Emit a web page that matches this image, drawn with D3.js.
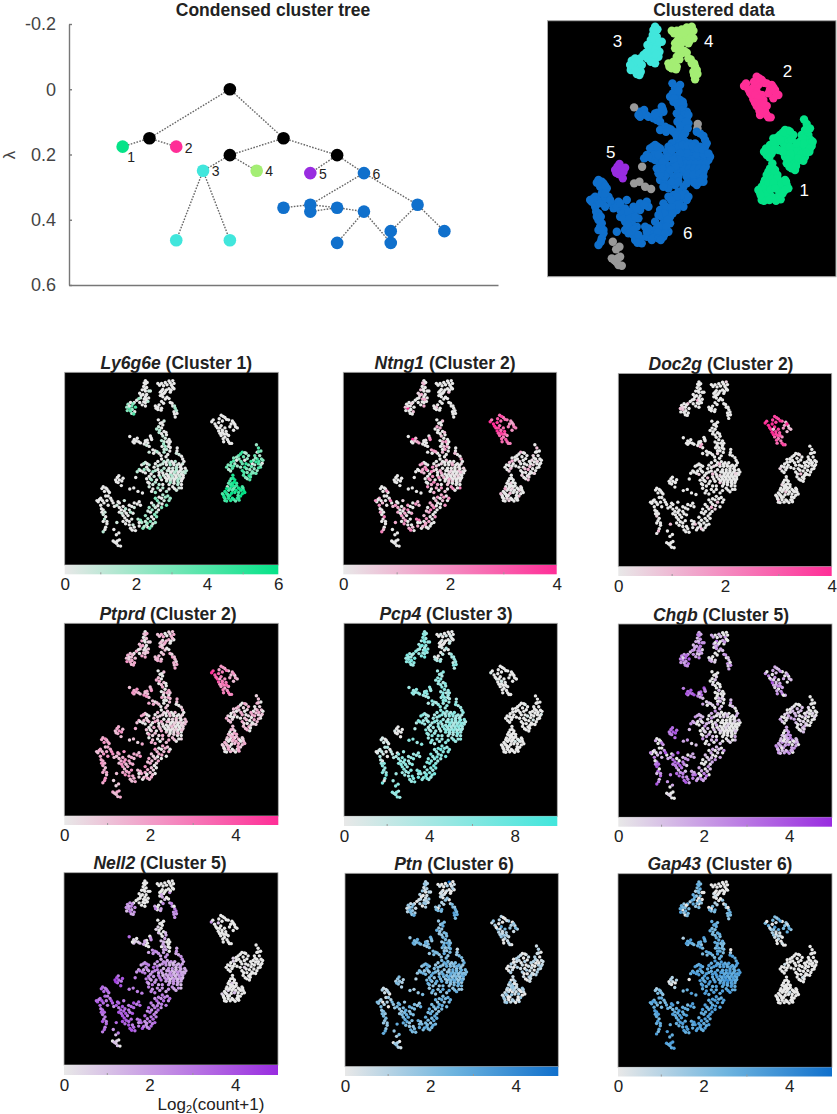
<!DOCTYPE html>
<html>
<head>
<meta charset="utf-8">
<script src="https://cdn.jsdelivr.net/npm/d3@7"></script>
<style>
body { margin: 0; background: #fff; }
text { font-family: "Liberation Sans", Arial, sans-serif; fill: #222; }
</style>
</head>
<body>
<div id="chart"></div>
<script>
// embedding coordinates, grouped by cluster (cluster 6 split in its lobes)
const cluster1 = [[792,358],[800,372],[810,385],[795,390],[785,405],[805,405],[812,420],[795,420],[780,425],[815,438],[800,440],[785,445],[808,455],[795,470],[735,390],[750,395],[720,405],[700,415],[712,425],[740,410],[760,405],[690,435],[678,445],[705,440],[730,430],[745,425],[680,465],[695,460],[715,450],[775,440],[760,445],[745,455],[765,465],[735,470],[755,478],[740,490],[770,485],[755,505],[765,510],[780,480],[697,490],[690,505],[705,510],[680,525],[695,525],[712,525],[675,540],[690,540],[705,540],[720,545],[735,540],[665,560],[680,555],[695,555],[710,555],[730,555],[660,578],[675,572],[685,578],[720,565],[740,555],[665,600],[680,590],[700,595],[715,590],[728,580],[718,578],[695,590]];
const cluster2 = [[650,230],[665,240],[612,258],[625,268],[640,262],[655,255],[680,250],[695,255],[705,270],[715,285],[700,295],[685,280],[665,285],[650,275],[635,285],[640,298],[655,305],[670,300],[650,318],[665,325],[680,318],[660,345],[680,345],[692,352],[675,335]];
const cluster3 = [[345,80],[345,95],[338,105],[350,110],[332,120],[345,125],[365,125],[322,135],[335,140],[350,140],[358,155],[325,155],[340,160],[310,165],[322,175],[345,175],[355,170],[345,190],[300,175],[285,175],[275,182],[290,190],[280,200],[272,210],[292,205],[305,195],[290,222],[302,215]];
const cluster4 = [[395,92],[410,92],[425,88],[440,82],[455,80],[450,100],[460,115],[440,115],[430,120],[415,118],[405,130],[420,135],[445,130],[405,145],[415,150],[410,170],[425,160],[440,158],[445,175],[400,185],[385,190],[395,205],[410,200],[455,190],[465,200],[460,215],[470,210],[465,238],[462,225]];
const cluster5 = [[238,492],[225,510],[240,510],[255,503],[235,522],[248,535]];
const cluster6Top = [[397,250],[420,255],[405,265],[390,290],[410,285],[420,300],[400,305],[415,320],[430,315],[440,335],[420,345],[440,355],[425,365],[445,370],[430,378],[412,365]];
const cluster6Left = [[300,335],[312,330],[300,350],[318,345],[345,340],[365,320],[370,335],[355,350],[340,355],[360,365],[375,380],[360,390],[385,385],[400,395],[420,390],[435,400],[480,400],[495,420],[410,420],[395,430]];
const cluster6Core = [[440,470],[455,470],[470,470],[485,470],[500,475],[430,485],[445,485],[460,485],[475,485],[490,485],[505,480],[425,500],[440,500],[455,500],[470,500],[485,500],[497,500],[430,515],[445,515],[460,515],[475,515],[490,515],[455,460],[470,455],[485,455],[420,430],[435,425],[450,430],[465,430],[480,440],[495,440],[430,445],[445,445],[460,445],[405,445],[455,540],[470,555],[490,545],[475,530],[440,530]];
const cluster6Mid = [[345,435],[330,445],[360,445],[350,455],[320,465],[335,475],[312,475],[345,480],[360,470],[380,455],[375,475],[395,465],[410,470],[400,490],[380,495],[360,495],[370,510],[355,520],[385,520],[410,510],[400,530],[415,530],[360,540],[375,550],[385,565],[405,555],[430,560]];
const cluster6Ring = [[415,575],[435,580],[400,585],[385,590],[420,600],[440,600],[370,610],[400,610],[430,620],[360,630],[385,630],[410,630],[365,650],[390,650],[345,665],[370,670],[390,670],[345,690],[365,690],[385,695],[315,680],[330,695],[320,710],[335,720],[350,705],[370,710]];
const cluster6Arc = [[175,540],[190,550],[180,560],[200,565],[165,590],[185,580],[205,590],[155,605],[190,600],[215,610],[165,620],[195,620],[220,625],[235,605],[260,600],[175,640],[240,630],[255,625],[280,620],[300,610],[320,605],[175,660],[240,650],[260,645],[280,640],[300,630],[325,620],[180,680],[255,665],[275,665],[295,655],[190,700],[270,685],[290,680],[230,695],[185,715],[175,735],[280,705],[300,715],[255,690],[285,720],[305,730]];
const unassigned = [[282,322],[473,372],[472,385],[306,500],[282,550],[298,545],[315,560],[333,567],[218,725],[238,740],[228,748],[215,775],[228,785],[240,770],[235,795],[245,797]];

// second reading of the denser parts of each cluster
const cluster1More = [[800,388],[788,415],[802,430],[818,425],[790,432],[810,445],[772,452],[783,462],[800,458],[775,475],[790,482],[745,392],[728,398],[712,412],[700,428],[688,448],[672,455],[688,472],[700,450],[722,420],[735,440],[750,440],[752,462],[742,478],[728,455],[762,492],[748,500],[768,498],[755,418],[770,430],[698,503],[685,515],[703,520],[688,530],[672,548],[685,548],[698,535],[712,535],[725,550],[700,548],[670,567],[665,590],[678,580],[692,568],[705,565],[738,545],[745,565],[672,602],[688,600],[708,602],[722,598],[735,570],[655,570],[662,585],[720,590]];
const cluster2More = [[642,245],[658,235],[672,248],[618,250],[630,278],[645,285],[690,268],[708,280],[700,262],[655,295],[645,308],[662,312],[672,312],[658,332],[685,352]];
const cluster3More = [[352,88],[340,90],[342,118],[358,125],[328,145],[345,150],[338,172],[348,162],[332,185],[318,158],[280,190],[295,180],[285,212],[298,225],[270,195]];
const cluster4More = [[402,100],[418,102],[432,98],[445,90],[460,92],[455,110],[448,122],[410,125],[425,128],[412,140],[395,195],[418,178],[432,152],[452,178],[462,190],[472,222],[388,200],[408,208]];
const cluster5More = [[232,500],[250,515],[228,518]];
const cluster6TopMore = [[412,262],[398,280],[415,272],[402,295],[428,305],[410,310],[425,330],[433,345],[410,340],[445,345],[418,355],[438,365],[420,378],[443,385]];
const cluster6LeftMore = [[308,342],[295,345],[325,350],[352,338],[368,328],[350,360],[345,345],[378,395],[392,388],[408,405],[428,410],[470,395],[490,408],[500,430]];
const cluster6CoreMore = [[433,470],[448,477],[463,477],[478,477],[493,477],[437,492],[452,492],[467,492],[482,492],[497,490],[510,470],[432,507],[447,507],[462,507],[477,507],[492,507],[418,490],[440,460],[470,463],[490,462],[445,522],[460,525],[478,522],[490,530],[415,440],[428,435],[443,436],[458,438],[473,445],[488,448],[505,460],[420,460],[415,480],[480,545],[462,548]];
const cluster6MidMore = [[338,440],[352,440],[340,465],[325,470],[355,465],[368,485],[385,470],[400,478],[405,500],[390,510],[375,530],[360,525],[365,505],[350,505],[395,545],[370,560],[415,545],[385,440],[395,450],[440,550]];
const cluster6RingMore = [[425,585],[410,590],[393,600],[412,615],[378,620],[395,622],[372,640],[398,640],[355,645],[382,660],[355,678],[378,680],[352,698],[375,700],[325,685],[320,695],[340,712],[355,715],[445,590],[362,720]];
const cluster6ArcMore = [[170,548],[185,545],[195,558],[172,600],[178,610],[195,580],[210,600],[160,595],[150,600],[168,635],[170,650],[182,650],[185,670],[175,690],[182,725],[190,690],[230,620],[248,640],[265,635],[290,625],[312,615],[250,655],[268,655],[285,650],[262,675],[280,690],[265,700],[295,705],[292,728],[240,610]];
const unassignedMore = [[222,780],[232,775]];

const pointGroups = [cluster1, cluster2, cluster3, cluster4, cluster5, cluster6Top, cluster6Left, cluster6Core, cluster6Mid, cluster6Ring, cluster6Arc, unassigned,
	cluster1More, cluster2More, cluster3More, cluster4More, cluster5More, cluster6TopMore, cluster6LeftMore, cluster6CoreMore, cluster6MidMore, cluster6RingMore, cluster6ArcMore, unassignedMore];
const groupCluster = [1, 2, 3, 4, 5, 6, 6, 6, 6, 6, 6, 0, 1, 2, 3, 4, 5, 6, 6, 6, 6, 6, 6, 0];

// expression level per point (0-9 = share of the colour bar), same order as pointGroups
const ly6g6e = ["3640524730 6253725405 3642502630 4737465364 8695872968 7856979587 96878968","0000000000 0000000000 00000","0000001000 0100002000 35643620","0000000000 0000000000 000030200","000000","0102002100 103020","0000100000 0100201000","1020103010 2001020100 3012021020 1030101020","1020302010 3020103020 2010302","2304130253 1402304143 220413","0000000000 0000100000 0100010200 0000102000 00","0000000000 000000",
	"5364725364 5273645263 5746384637 8697968795 8679869785 79687","000000000000000","000100000304563","000000000000002000","000","01020010203010","00000100200100","1020102010 2010201020 3020102010 02010","2030102030 1020302010","3040203014 2031402035","0000000000 0100001020 0102000100","00"];
const ntng1 = ["0200100010 0100300000 0200100200 0030010020 0000200000 1000020000 00100200","6599865445 4566799865 46657","0300200130 0030000300 00900002","0000000000 0020000000 000000000","000000","0200300200 302040","9203005000 3040200300","0102000100 0300100002 0100102000 1003040502","0304030204 5030402050 3040302","3040203040 5030204030 503040","0000300000 4020103040 2030502040 3040305020 30","0000000000 000000",
	"0010002000 1000300100 0020000100 0000300001 0002000010 00200","7865984536 78665","020010030001002","000000000020000000","000","03002004000300","20304000300200","0100200010 0030001000 2000100200 10304","4030502040 3050304020","4020305020 4030502040","0040205040 3050204030 4030204050","00"];
const doc2g = ["0000000000 0000010000 0000000000 0000200000 0001000000 0002000000 00000000","8799986212 2489998765 46765","0000000000 0030000020 00200000","0000100000 0000000000 000000000","000000","0000000000 000000","0000000300 0000100000","0000010000 0000000200 0000000000 0000100000","0000000100 0000200000 0000000","0000200000 0100000000 020000","0000000000 0000000000 0100000000 0000200000 00","0000000000 000000",
	"0000000000 0000001000 0000000000 0000000000 0200000000 00000","8898923298 98778","000000000010002","000000000000000000","000","00000000000000","00000300000000","0000100000 0000000000 0000020000 00000","0000000200 0000000000","0000030000 0000000200","0000000000 0000200000 0000000000","00"];
const ptprd = ["1203012302 1302013201 3012302103 1203021301 2302032103 1302302103 20320130","4397652312 2345876543 45654","0102301230 2103012302 32143223","2301230320 1203212032 231423132","324232","0203020303 201203","3432324242 2302010202","2012001201 2010201200 2013012020 1020120102","2301302032 0231302023 1302302","3204232303 2031420320 231023","3243323234 3423432323 2324324343 3234243433 23","2323121312 132323",
	"2130210320 1302103201 3021032013 2032103203 2130213020 32103","3458632345 45654","320130213012332","230132023132012323","342","02030203020302","34233423202010","2010102001 2001020010 0120102001 20102","3020103020 1302032013","3023102320 3102302302","3432434323 4323432343 3423234323","23"];
const pcp4 = ["0000000001 0000010000 0000000000 1000000000 0000000000 0000100000 00000000","0010000000 0000100000 00000","4554355465 5345454654 64556645","0100010001 0020100000 132342435","010000","4544534544 545354","4545354544 5345453454","5435446354 4534543543 5453454354 3454534543","4534543454 3455434543 5445345","5464556465 5465456456 546554","1010120102 3030404544 4554354454 5645456454 55","4343554545 554354",
	"0000000100 0000000000 0000000000 0000000010 0000000000 00000","000000000100000","456453465443544","001000100002344534","000","45345453445354","45454354354545","4534543454 3545345345 4354534543 54345","5345345434 5435454345","5645465456 5465645654","1012132102 4545043454 4554544645","45"];
const chgb = ["0000100010 0000001012 2103212032 1012103120 3042342034 2342035240 34253432","3245020102 0304572310 34534","3524354235 1342413534 56544756","3020040306 3400400230 031024031","657656","0000201000 003020","6756673652 1321312043","0001000100 0200010000 1000020100 3020101200","3423304020 2010201030 2040102","2030102030 2401302050 365463","0103204030 5230756020 3756543645 1642527556 63","5242341243 001000",
	"0010010001 0000103012 2010320120 3041203502 3403420234 03423","3240010232 35430","352435243416345","302000400300342431","675","00100020000100","67765320103102","0010001000 0100020001 0003010200 20301","3203042020 3010203040","2030120304 3206352543","3050207040 5602543604 3574256475","10"];
const nell2 = ["0000000000 0000000100 0000000000 0100000000 0000200000 0010000100 00000000","0040200000 0000000000 00000","0000000000 0000000004 45423434","0000000000 0040302030 303454544","586767","0001002030 203030","1021304030 4354343434","3243234324 3432342324 4342343432 3423243234","4354354536 4545453545 3454543","5454645456 5464655456 565746","6565665756 6546565757 6576566575 7676655767 76","6345555545 201020",
	"0000000000 0000100000 0000000000 0000000000 0000200000 00100","000000000000000","000000000034534","000000000304050453","758","01002030203030","10204034434343","3424334243 3424232423 3432443234 32343","4535445354 5345454354","5465454645 5645645465","6567657565 6657657666 5675766576","21"];
const ptn = ["1201201021 2012012010 1201020120 1012012010 1021312312 3120102103 12021302","2012003012 1345421232 10201","2312301201 3210231201 34523132","0009010010 0102023023 345456445","423232","3435343443 453534","4545453434 4343534343","3454345345 4345343453 4353454345 3543435343","4345453434 5345343545 3435343","4545344545 3454545434 545454","1210212323 4034343454 3434345345 4354535345 54","3132323434 203021",
	"1201021021 2012010201 1020120102 1302103102 3103120310 20130","2013012431 23201","231201320123451","102012010102343544","324","43534345345434","45434354434345","3543453435 4345354345 3454353453 43534","4534354345 3454345345","4535454345 4545345454","2120234343 4343534354 3454534345","32"];
const gap43 = ["0000000000 0000000000 0100000000 0000000000 0000000000 0000100000 00000000","4545010343 5456320112 00100","4545240534 0402503453 54065404","0000000000 1000020304 045344534","201202","5455454545 545454","5645565354 5454656565","6565567565 6567565656 5565556565 6565656565","5656565655 6565656566 5656565","6565656566 5656565656 565656","2343454545 5456464554 6565555656 6565556565 65","2020456565 565656",
	"0000000000 0000000000 0000010000 0000000000 0000000000 00000","4350134511 32100","454050443540345","000000000102030454","201","54545454545454","56455654545656","6565656565 6567656565 6565656565 65656","5656565656 5656565656","5656565656 6565656565","3445454656 5645454565 6565565656","56"];

const geneNames = ["Ly6g6e", "Ntng1", "Doc2g", "Ptprd", "Pcp4", "Chgb", "Nell2", "Ptn", "Gap43"];
const geneClusters = [1, 2, 2, 2, 3, 5, 5, 6, 6];
const geneLevels = [ly6g6e, ntng1, doc2g, ptprd, pcp4, chgb, nell2, ptn, gap43];
const geneMax = [6, 4, 4, 5, 10, 5, 5, 5, 5];
const geneTicks = [[0,2,4,6], [0,2,4], [0,2,4], [0,2,4], [0,4,8], [0,2,4], [0,2,4], [0,2,4], [0,2,4]];
const geneMinorTicks = [[1,3,5], [1,3], [1,3], [1,3], [2,6], [1,3], [1,3], [1,3], [1,3]];

// condensed tree: x slot, lambda, cluster of each node (-1 = black split)
const treeSlots = [4,1,0,2,6,4,3,5,8,7,9,2,4,7,11,6,8,7,9,8,10,10,12];
const treeLambda = [0,0.15,0.176,0.176,0.15,0.202,0.25,0.25,0.202,0.257,0.257,0.463,0.463,0.354,0.354,0.363,0.363,0.375,0.375,0.471,0.471,0.435,0.435];
const treeCluster = [-1,-1,1,2,-1,-1,3,4,-1,5,6,3,3,6,6,6,6,6,6,6,6,6,6];
const treeEdges = [[0,1],[0,4],[1,2],[1,3],[4,5],[4,8],[5,6],[5,7],[8,9],[8,10],[6,11],[6,12],[10,13],[10,14],[13,15],[13,16],[16,17],[16,18],[18,19],[18,20],[14,21],[14,22]];
const lambdaTicks = [-0.2, 0, 0.2, 0.4, 0.6];

const clusterColors = {"-1":"#000000", 0:"#999999", 1:"#05e388", 2:"#ff2e97", 3:"#41e6dc", 4:"#a4ee74", 5:"#992ce0", 6:"#1070cc"};
const lowColor = "#e8e8e8";
// the blue ramp runs through a sky blue, the others are straight
const midColors = {6:"#6fb5df"};

const svg = d3.select("#chart").append("svg")
	.attr("width", 837)
	.attr("height", 1114);
const defs = svg.append("defs");

const parseLevels = (s) => s.replace(/ /g, "").split("").map(Number);

let drawTitle = (x, y, gene, rest) => {
	const t = svg.append("text")
		.attr("x", x).attr("y", y)
		.attr("text-anchor", "middle")
		.attr("font-size", 17.5)
		.attr("font-weight", "bold");
	if (gene) t.append("tspan").attr("font-style", "italic").text(gene + " ");
	t.append("tspan").text(rest);
};

let drawTree = () => {
	const x = d3.scaleLinear().domain([-2, 14]).range([69, 498]);
	const y = d3.scaleLinear().domain([-0.2, 0.6]).range([24, 285]);
	const g = svg.append("g");

	const yAxis = g.append("g")
		.attr("transform", "translate(69,0)")
		.call(d3.axisLeft(y).tickValues(lambdaTicks).tickFormat(String).tickSizeInner(-3).tickSizeOuter(0).tickPadding(13));
	yAxis.selectAll("text").attr("font-size", 18).style("fill", "#444");
	g.append("g")
		.attr("transform", "translate(0,285)")
		.call(d3.axisBottom(x).tickValues([]).tickSizeOuter(0));
	g.selectAll(".domain, .tick line").attr("stroke", "#777").attr("stroke-width", 1.4);

	g.selectAll(".link")
		.data(treeEdges)
		.enter()
		.append("line")
		.attr("x1", (d) => x(treeSlots[d[0]]))
		.attr("y1", (d) => y(treeLambda[d[0]]))
		.attr("x2", (d) => x(treeSlots[d[1]]))
		.attr("y2", (d) => y(treeLambda[d[1]]))
		.attr("stroke", "#666")
		.attr("stroke-width", 1.4)
		.attr("stroke-dasharray", "1.6,1.4");

	g.selectAll(".node")
		.data(treeSlots)
		.enter()
		.append("circle")
		.attr("cx", (d) => x(d))
		.attr("cy", (d, i) => y(treeLambda[i]))
		.attr("r", 6.3)
		.attr("fill", (d, i) => clusterColors[treeCluster[i]]);

	// cluster numbers beside the first node of each cluster
	const nodeOfLabel = [2, 3, 6, 7, 9, 10];
	const labelOffset = [[8.5, 15.5], [12.5, 6.5], [12.5, 5.5], [12.5, 5.5], [12.5, 5.5], [12.5, 6]];
	g.selectAll(".nodelabel")
		.data(nodeOfLabel)
		.enter()
		.append("text")
		.attr("x", (d, i) => x(treeSlots[d]) + labelOffset[i][0])
		.attr("y", (d, i) => y(treeLambda[d]) + labelOffset[i][1])
		.attr("text-anchor", "middle")
		.attr("font-size", 14)
		.text((d, i) => i + 1);

	svg.append("text")
		.attr("transform", "translate(15,155) rotate(-90)")
		.attr("text-anchor", "middle")
		.attr("font-size", 17)
		.style("fill", "#444")
		.text("λ");
};

let drawMainScatter = () => {
	const x = d3.scaleLinear().domain([22, 888]).range([547.5, 836]);
	const y = d3.scaleLinear().domain([62, 830]).range([20.7, 276.7]);
	const g = svg.append("g");
	g.append("rect")
		.attr("x", x(22)).attr("y", y(62))
		.attr("width", x(888) - x(22)).attr("height", y(830) - y(62))
		.attr("fill", "#000").attr("stroke", "#aaa");
	pointGroups.forEach((pts, i) => {
		g.append("g").selectAll("circle")
			.data(pts)
			.enter()
			.append("circle")
			.attr("cx", (d) => x(d[0]))
			.attr("cy", (d) => y(d[1]))
			.attr("r", 4.2)
			.attr("fill", clusterColors[groupCluster[i]]);
	});
	// white cluster numbers inside the map
	const labelAt = [[793,588],[742,230],[232,140],[506,140],[212,473],[443,718]];
	g.selectAll(".maplabel")
		.data(labelAt)
		.enter()
		.append("text")
		.attr("x", (d) => x(d[0]))
		.attr("y", (d) => y(d[1]))
		.attr("text-anchor", "middle")
		.attr("font-size", 17)
		.style("fill", "#fff")
		.text((d, i) => i + 1);
};

// box of each gene panel: left, right, top, map bottom, bar bottom, title centre
const panelBoxes = [
	[64.7, 278.3, 372.3, 565, 574.3, 176.3],
	[343.3, 556.7, 372.3, 565, 574.3, 445],
	[618.3, 831.7, 373.5, 566.7, 576, 721],
	[64.3, 278.3, 623.3, 816, 825, 168],
	[344, 557.3, 623.3, 816.3, 826, 446],
	[618.3, 832, 624, 817.3, 826.7, 721],
	[64, 278, 872.7, 1065, 1075, 160],
	[345, 558.3, 873.3, 1066.7, 1076, 454],
	[618, 832, 873.7, 1067.3, 1076.5, 720]
];

let drawGenePanel = (i) => {
	const box = panelBoxes[i];
	const color = clusterColors[geneClusters[i]];
	const mid = midColors[geneClusters[i]] || d3.interpolateRgb(lowColor, color)(0.5);
	const x = d3.scaleLinear().domain([20, 880]).range([box[0], box[1]]);
	const y = d3.scaleLinear().domain([44, 879]).range([box[2], box[3]]);
	const barScale = d3.scaleLinear().domain([0, geneMax[i]]).range([box[0], box[1]]);
	const colorScale = d3.scaleLinear().domain([0, 4.5, 9]).range([lowColor, mid, color]);
	const g = svg.append("g");

	drawTitle(box[5], box[2] - 3.5, geneNames[i], "(Cluster " + geneClusters[i] + ")");

	g.append("rect")
		.attr("x", box[0]).attr("y", box[2])
		.attr("width", box[1] - box[0]).attr("height", box[3] - box[2])
		.attr("fill", "#000").attr("stroke", "#aaa").attr("stroke-width", 0.8);

	pointGroups.forEach((pts, k) => {
		const levels = parseLevels(geneLevels[i][k]);
		g.append("g").selectAll("circle")
			.data(pts)
			.enter()
			.append("circle")
			.attr("cx", (d) => x(d[0]))
			.attr("cy", (d) => y(d[1]))
			.attr("r", 1.7)
			.attr("fill", (d, j) => colorScale(levels[j] || 0));
	});

	const gradId = "bar" + i;
	const grad = defs.append("linearGradient").attr("id", gradId);
	grad.append("stop").attr("offset", "0%").attr("stop-color", lowColor);
	grad.append("stop").attr("offset", "50%").attr("stop-color", mid);
	grad.append("stop").attr("offset", "100%").attr("stop-color", color);
	g.append("rect")
		.attr("x", box[0]).attr("y", box[3])
		.attr("width", box[1] - box[0]).attr("height", box[4] - box[3])
		.attr("fill", "url(#" + gradId + ")");

	const minor = g.append("g")
		.attr("transform", "translate(0," + box[4] + ")")
		.call(d3.axisBottom(barScale).tickValues(geneMinorTicks[i]).tickFormat("").tickSizeInner(-2).tickSizeOuter(0));
	minor.select(".domain").remove();
	minor.selectAll("line").attr("stroke", "#999");

	const axis = g.append("g")
		.attr("transform", "translate(0," + box[4] + ")")
		.call(d3.axisBottom(barScale).tickValues(geneTicks[i]).tickFormat(String).tickSize(0).tickPadding(3.5));
	axis.select(".domain").remove();
	axis.selectAll("text").attr("font-size", 17);
};

let drawCountLabel = () => {
	const t = svg.append("text")
		.attr("x", 211).attr("y", 1109.5)
		.attr("text-anchor", "middle")
		.attr("font-size", 17);
	t.append("tspan").text("Log");
	t.append("tspan").attr("font-size", 11).attr("dy", 3).text("2");
	t.append("tspan").attr("dy", -3).text("(count+1)");
};

drawTitle(273, 16, null, "Condensed cluster tree");
drawTitle(714, 16, null, "Clustered data");
drawTree();
drawMainScatter();
geneNames.forEach((name, i) => drawGenePanel(i));
drawCountLabel();
</script>
</body>
</html>
